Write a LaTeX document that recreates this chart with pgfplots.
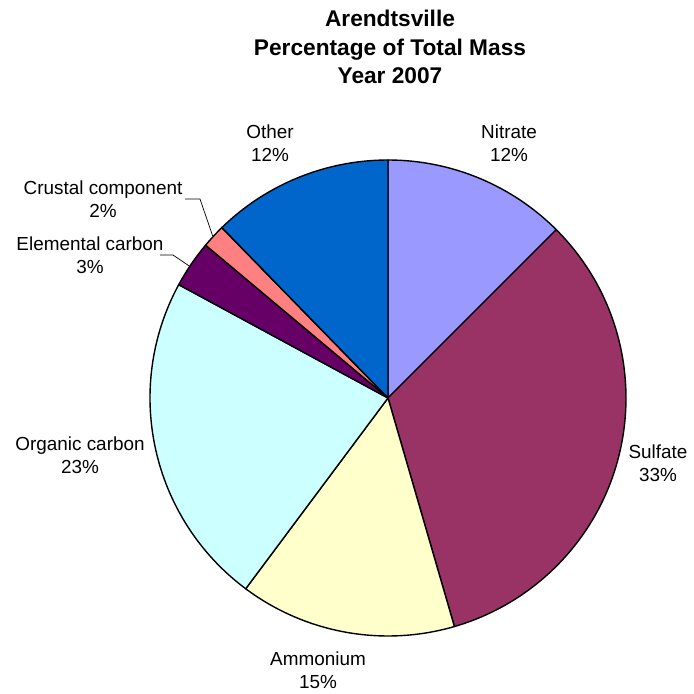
\documentclass[border=0pt]{standalone}
\usepackage{pgfplots}
\usepackage{pgfplotstable}
\pgfplotsset{compat=1.18}
\usepackage{fontspec}
\setmainfont{Liberation Sans}
\definecolor{cNitrate}{HTML}{9999FF}
\definecolor{cSulfate}{HTML}{993366}
\definecolor{cAmmonium}{HTML}{FFFFCC}
\definecolor{cOrganic}{HTML}{CCFFFF}
\definecolor{cElemental}{HTML}{660066}
\definecolor{cCrustal}{HTML}{FF8080}
\definecolor{cOther}{HTML}{0066CC}
\pgfplotstableread[col sep=comma]{
label,value,color
Nitrate,12.5,cNitrate
Sulfate,33.0,cSulfate
Ammonium,14.7,cAmmonium
Organic carbon,22.7,cOrganic
Elemental carbon,3.2,cElemental
Crustal component,1.6,cCrustal
Other,12.3,cOther
}\piedata
\pgfplotstablecreatecol[create col/expr accum={\pgfmathaccuma - 3.6*\thisrow{value}}{90}]{endang}\piedata
\begin{document}
\begin{tikzpicture}
\begin{axis}[
  scale only axis, width=694pt, height=694pt,
  xmin=0, xmax=694, ymin=0, ymax=694,
  hide axis, clip=false,
]
\path (axis cs:0,0) (axis cs:694,694);
\pgfplotsforeachungrouped \i in {0,...,6}{%
  \pgfplotstablegetelem{\i}{endang}\of\piedata \edef\E{\pgfplotsretval}%
  \pgfplotstablegetelem{\i}{value}\of\piedata \edef\V{\pgfplotsretval}%
  \pgfplotstablegetelem{\i}{color}\of\piedata \edef\C{\pgfplotsretval}%
  \pgfmathsetmacro\S{\E+3.6*\V}%
  \edef\cmd{\noexpand\filldraw[fill=\C, draw=black, line width=1.4pt, line join=round]
    (axis cs:388,296) -- ++(\S:238pt) arc[start angle=\S, end angle=\E, radius=238pt] -- cycle;}%
  \cmd
}
\begin{scope}[every node/.style={align=center, font=\fontsize{18.9}{23.5}\selectfont, text=black}]
\node at (axis cs:509,551) {Nitrate\\12\%};
\node at (axis cs:658,231) {Sulfate\\33\%};
\node at (axis cs:318,24) {Ammonium\\15\%};
\node at (axis cs:80,239) {Organic carbon\\23\%};
\node at (axis cs:90,439) {Elemental carbon\\3\%};
\node at (axis cs:103,495) {Crustal component\\2\%};
\node at (axis cs:270,551) {Other\\12\%};
\end{scope}
\draw[line width=0.7pt] (axis cs:185,495) -- (axis cs:200,495) -- (axis cs:212.7,458);
\draw[line width=0.7pt] (axis cs:160,439) -- (axis cs:173,439) -- (axis cs:189.3,428);
\node[align=center, font=\bfseries\fontsize{22.7}{28.5}\selectfont] at (axis cs:390,647)
  {Arendtsville\\Percentage of Total Mass\\Year 2007};
\end{axis}
\end{tikzpicture}
\end{document}
